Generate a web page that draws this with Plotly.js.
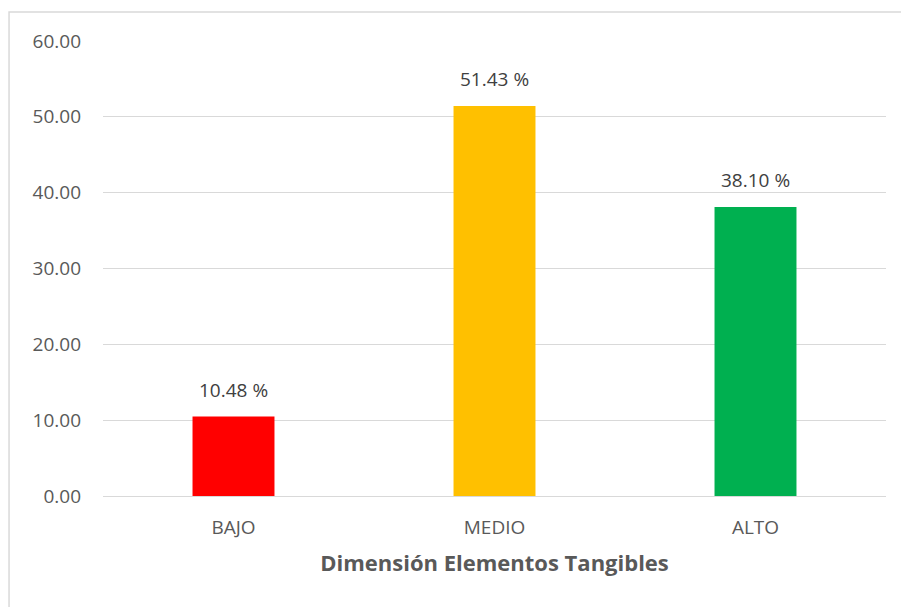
<!DOCTYPE html>
<html>
<head>
<meta charset="utf-8">
<script src="https://cdn.plot.ly/plotly-3.0.1.min.js"></script>
<style>html,body{margin:0;padding:0;background:#fff;}#chart{width:901px;height:607px;}</style>
</head>
<body>
<div id="chart"></div>
<script>
var categories = ["BAJO", "MEDIO", "ALTO"];
var values = [10.48, 51.43, 38.10];
var barColors = ["#FF0000", "#FFC000", "#00B050"];
var valueLabels = ["10.48 %", "51.43 %", "38.10 %"];
var yTickValues = [0, 10, 20, 30, 40, 50, 60];
var xAxisTitle = "Dimensión Elementos Tangibles";

var FONT = "'Open Sans', 'Noto Sans', sans-serif";

var trace = {
  type: "bar",
  x: categories,
  y: values,
  marker: {color: barColors},
  width: 0.314,
  hoverinfo: "x+y"
};

var annotations = categories.map(function (c, i) {
  return {
    x: c, y: values[i], xref: "x", yref: "y",
    text: valueLabels[i], showarrow: false,
    yanchor: "bottom", yshift: 12,
    font: {family: FONT, size: 19, color: "#404040"}
  };
});

var layout = {
  width: 901, height: 607,
  margin: {l: 103, r: 15, t: 41, b: 111},
  paper_bgcolor: "#ffffff",
  plot_bgcolor: "#ffffff",
  showlegend: false,
  xaxis: {
    type: "category",
    showgrid: false, zeroline: false, showline: false, ticks: "",
    tickfont: {family: FONT, size: 19, color: "#595959"},
    ticklabelstandoff: 18,
    title: {text: xAxisTitle, standoff: 16, font: {family: FONT, size: 22, color: "#595959", weight: "bold"}}
  },
  yaxis: {
    range: [0, 60],
    tickvals: yTickValues,
    tickformat: ".2f",
    showgrid: true, gridcolor: "#D9D9D9", gridwidth: 1,
    zeroline: true, zerolinecolor: "#D9D9D9", zerolinewidth: 1,
    showline: false, ticks: "",
    tickfont: {family: FONT, size: 19, color: "#595959"},
    ticklabelstandoff: 21
  },
  annotations: annotations,
  shapes: [{
    type: "rect", xref: "paper", yref: "paper",
    x0: -0.1200, x1: 1.03, y0: -0.26, y1: 1.0637,
    line: {color: "#D9D9D9", width: 1.5}, fillcolor: "rgba(0,0,0,0)", layer: "below"
  }]
};

Plotly.newPlot("chart", [trace], layout, {displayModeBar: false, staticPlot: true});
</script>
</body>
</html>
